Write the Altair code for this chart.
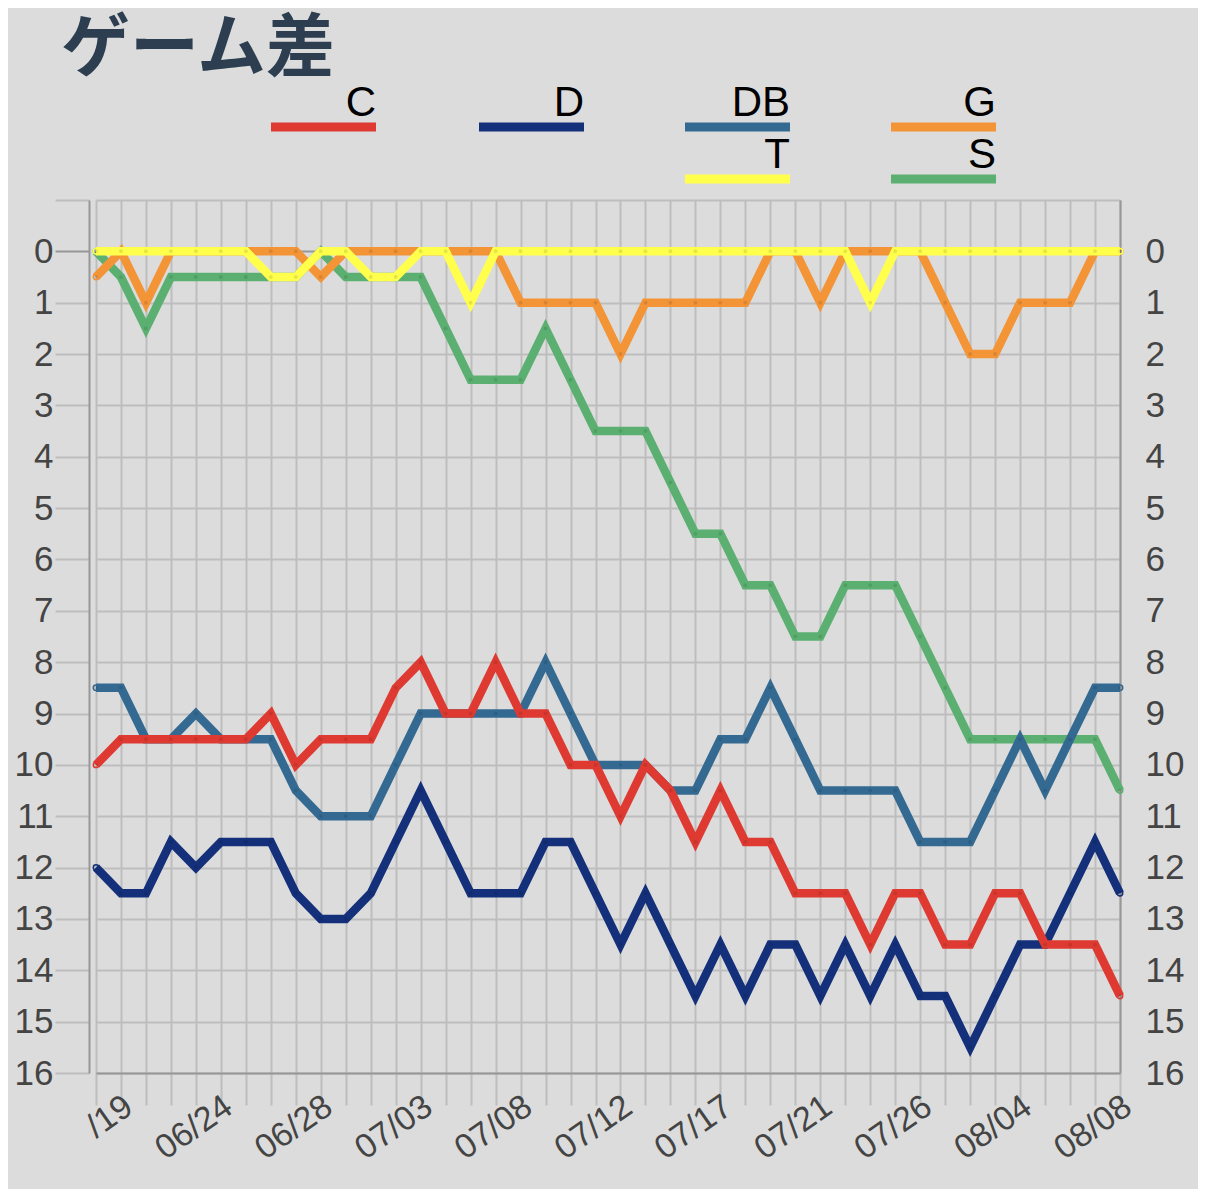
import pandas as pd
import altair as alt

# game days shown in the (scrolled) window
dates = ["06/18", "06/19", "06/20", "06/21", "06/23", "06/24", "06/25", "06/26", "06/27", "06/28",
         "06/29", "06/30", "07/01", "07/03", "07/04", "07/05", "07/06", "07/08", "07/09", "07/10",
         "07/11", "07/12", "07/13", "07/14", "07/16", "07/17", "07/18", "07/19", "07/20", "07/21",
         "07/22", "07/23", "07/25", "07/26", "07/27", "07/28", "08/03", "08/04", "08/05", "08/06",
         "08/07", "08/08"]
tick_dates = ["06/19", "06/24", "06/28", "07/03", "07/08", "07/12", "07/17", "07/21", "07/26", "08/04", "08/08"]
tick_labels = ["/19", "06/24", "06/28", "07/03", "07/08", "07/12", "07/17", "07/21", "07/26", "08/04", "08/08"]

teams = ["C", "D", "DB", "G", "T", "S"]
colors = ["#de3a31", "#14307a", "#346a92", "#f39437", "#ffff4c", "#5bb071"]

gb_C = [10, 9.5, 9.5, 9.5, 9.5, 9.5, 9.5, 9, 10, 9.5,
        9.5, 9.5, 8.5, 8, 9, 9, 8, 9, 9, 10,
        10, 11, 10, 10.5, 11.5, 10.5, 11.5, 11.5, 12.5, 12.5,
        12.5, 13.5, 12.5, 12.5, 13.5, 13.5, 12.5, 12.5, 13.5, 13.5,
        13.5, 14.5]
gb_D = [12, 12.5, 12.5, 11.5, 12, 11.5, 11.5, 11.5, 12.5, 13,
        13, 12.5, 11.5, 10.5, 11.5, 12.5, 12.5, 12.5, 11.5, 11.5,
        12.5, 13.5, 12.5, 13.5, 14.5, 13.5, 14.5, 13.5, 13.5, 14.5,
        13.5, 14.5, 13.5, 14.5, 14.5, 15.5, 14.5, 13.5, 13.5, 12.5,
        11.5, 12.5]
gb_DB = [8.5, 8.5, 9.5, 9.5, 9, 9.5, 9.5, 9.5, 10.5, 11,
         11, 11, 10, 9, 9, 9, 9, 9, 8, 9,
         10, 10, 10, 10.5, 10.5, 9.5, 9.5, 8.5, 9.5, 10.5,
         10.5, 10.5, 10.5, 11.5, 11.5, 11.5, 10.5, 9.5, 10.5, 9.5,
         8.5, 8.5]
gb_G = [0.5, 0, 1, 0, 0, 0, 0, 0, 0, 0.5,
        0, 0, 0, 0, 0, 0, 0, 1, 1, 1,
        1, 2, 1, 1, 1, 1, 1, 0, 0, 1,
        0, 0, 0, 0, 1, 2, 2, 1, 1, 1,
        0, 0]
gb_T = [0, 0, 0, 0, 0, 0, 0, 0.5, 0.5, 0,
        0, 0.5, 0.5, 0, 0, 1, 0, 0, 0, 0,
        0, 0, 0, 0, 0, 0, 0, 0, 0, 0,
        0, 1, 0, 0, 0, 0, 0, 0, 0, 0,
        0, 0]
gb_S = [0, 0.5, 1.5, 0.5, 0.5, 0.5, 0.5, 0.5, 0.5, 0,
        0.5, 0.5, 0.5, 0.5, 1.5, 2.5, 2.5, 2.5, 1.5, 2.5,
        3.5, 3.5, 3.5, 4.5, 5.5, 5.5, 6.5, 6.5, 7.5, 7.5,
        6.5, 6.5, 6.5, 7.5, 8.5, 9.5, 9.5, 9.5, 9.5, 9.5,
        9.5, 10.5]

series = {"C": gb_C, "D": gb_D, "DB": gb_DB, "G": gb_G, "T": gb_T, "S": gb_S}
df = pd.DataFrame([{"date": d, "team": t, "gb": v}
                   for t in teams for d, v in zip(dates, series[t])])

BG = "#dcdcdc"
GRID = "#bdbdbd"
DARK = "#979797"
LABEL_FONT = "Liberation Sans"

# legend: wide bar under a right-aligned label
BAR_PATH = "M-1,0.38H1V0.55H-1Z"
legend_pos = {"C": (182, -150), "D": (390, -150), "DB": (596, -150),
              "G": (802, -150), "T": (596, -98), "S": (802, -98)}

date_arr = "[" + ",".join("'%s'" % d for d in tick_dates) + "]"
label_arr = "[" + ",".join("'%s'" % s for s in tick_labels) + "]"
x_label_expr = "indexof(%s, datum.label) >= 0 ? %s[indexof(%s, datum.label)] : ''" % (date_arr, label_arr, date_arr)

x_enc = alt.X("date:O", sort=dates, title=None,
              scale=alt.Scale(type="point", range=[7, 1031], padding=0),
              axis=alt.Axis(labelExpr=x_label_expr, labelOverlap=False, labelAngle=325,
                            labelAlign="right", labelBaseline="top", labelOffset=-2, labelPadding=-16,
                            labelFont=LABEL_FONT, labelFontSize=34, labelColor="#444444",
                            tickSize=32, tickColor=GRID, tickWidth=2,
                            grid=True, gridColor=GRID, gridWidth=2,
                            domainColor=DARK, domainWidth=2))

y_scale = alt.Scale(domain=[-1, 16], reverse=True, nice=False, zero=False)
y_values = list(range(-1, 17))
zero_dark = {"condition": {"test": "datum.value === 0", "value": DARK}, "value": GRID}

left_axis = alt.Axis(values=y_values, labelExpr="datum.value < 0 ? '' : datum.label",
                     labelFont=LABEL_FONT, labelFontSize=35, labelColor="#444444", labelPadding=2,
                     tickSize=34, tickColor=zero_dark, tickWidth=2,
                     grid=True, gridColor=zero_dark, gridWidth=2,
                     domainColor=DARK, domainWidth=2, title=None)
right_axis = alt.Axis(orient="right", values=y_values, labelExpr="datum.value < 0 ? '' : datum.label",
                      labelFont=LABEL_FONT, labelFontSize=35, labelColor="#444444", labelPadding=25,
                      ticks=False, grid=False, domainColor=DARK, domainWidth=2, title=None)


def team_layers(team, first=False):
    color = colors[teams.index(team)]
    lx, ly = legend_pos[team]
    legend = alt.Legend(title=None, orient="none", legendX=lx, legendY=ly, padding=0,
                        symbolType=BAR_PATH, symbolSize=105 * 105,
                        symbolFillColor=color, symbolStrokeColor=color, symbolStrokeWidth=0,
                        symbolOpacity=1,
                        labelFont=LABEL_FONT, labelFontSize=42, labelColor="black",
                        labelAlign="right", labelOffset=0)
    base = alt.Chart(df).transform_filter(alt.datum.team == team)
    line = base.mark_line(strokeWidth=8.5, strokeJoin="miter", strokeCap="butt").encode(
        x=x_enc,
        y=alt.Y("gb:Q", scale=y_scale, axis=left_axis if first else None),
        color=alt.Color("team:N", scale=alt.Scale(domain=[team], range=[color]), legend=legend),
    )
    dots = base.mark_point(filled=False, fill="black", fillOpacity=0.1, size=30,
                           strokeWidth=1.5, stroke=color).encode(
        x=x_enc,
        y=alt.Y("gb:Q", scale=y_scale, axis=None),
    )
    return [line, dots]


draw_order = ["S", "G", "DB", "D", "C", "T"]
layers = []
for i, t in enumerate(draw_order):
    layers += team_layers(t, first=(i == 0))
right = alt.Chart(df).mark_point(opacity=0).encode(
    x=x_enc, y=alt.Y("gb:Q", scale=y_scale, axis=right_axis))

chart = alt.layer(*layers, right).resolve_scale(color="independent").resolve_axis(y="independent").properties(
    width=1031, height=873,
    title=alt.TitleParams("ゲーム差", anchor="start", frame="group", font="Noto Sans CJK JP",
                          fontSize=69, fontWeight="bold", color="#2c3e50", dx=-28, dy=45, offset=10),
    autosize=alt.AutoSizeParams(type="none"),
    padding={"left": 81, "top": 192, "right": 78, "bottom": 116},
).configure(background=BG).configure_view(stroke=None)

chart.save("out.html", embed_options={"renderer": "svg", "actions": False})
